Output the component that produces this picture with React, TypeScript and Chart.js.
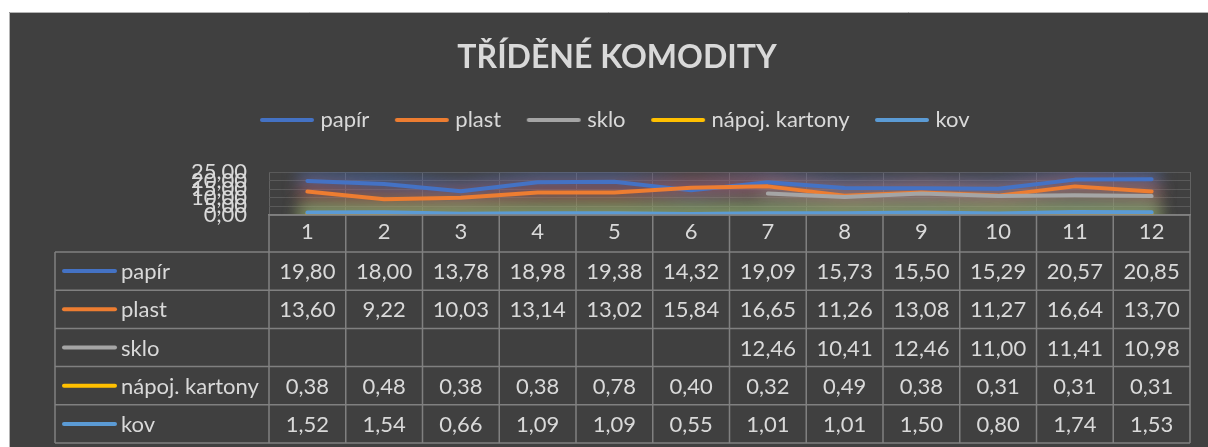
import React, { useEffect, useRef } from "react";
import { Chart, registerables } from "chart.js";

Chart.register(...registerables);

const categories = ["1", "2", "3", "4", "5", "6", "7", "8", "9", "10", "11", "12"];
const seriesNames = ["papír", "plast", "sklo", "nápoj. kartony", "kov"];
const papir = [19.8, 18.0, 13.78, 18.98, 19.38, 14.32, 19.09, 15.73, 15.5, 15.29, 20.57, 20.85];
const plast = [13.6, 9.22, 10.03, 13.14, 13.02, 15.84, 16.65, 11.26, 13.08, 11.27, 16.64, 13.7];
const sklo = [null, null, null, null, null, null, 12.46, 10.41, 12.46, 11.0, 11.41, 10.98];
const napojKartony = [0.38, 0.48, 0.38, 0.38, 0.78, 0.4, 0.32, 0.49, 0.38, 0.31, 0.31, 0.31];
const kov = [1.52, 1.54, 0.66, 1.09, 1.09, 0.55, 1.01, 1.01, 1.5, 0.8, 1.74, 1.53];
const yTicks = [0, 5, 10, 15, 20, 25];
const colors = ["#4472C4", "#ED7D31", "#A5A5A5", "#FFC000", "#5B9BD5"];
const glowColors = [
  "rgba(68,114,196,0.55)",
  "rgba(220,80,50,0.42)",
  "rgba(165,165,165,0.3)",
  "rgba(200,200,40,0.6)",
  "rgba(91,155,213,0.35)",
];

const FONT = "Lato, 'Noto Sans', sans-serif";
const TEXT = "#d9d9d9";
const BG = "#404040";
const TABLE_LINE = "#808080";

const fmt = (v: number | null) => (v === null || v === undefined ? "" : v.toFixed(2).replace(".", ","));

function lineSwatch(color: string) {
  const c = document.createElement("canvas");
  c.width = 56;
  c.height = 6;
  const g = c.getContext("2d");
  if (g) {
    g.strokeStyle = color;
    g.lineWidth = 4;
    g.lineCap = "round";
    g.beginPath();
    g.moveTo(3, 3);
    g.lineTo(53, 3);
    g.stroke();
  }
  return c;
}

export default function App() {
  const ref = useRef<HTMLCanvasElement | null>(null);

  useEffect(() => {
    const canvas = ref.current;
    if (!canvas) return;
    const seriesData = [papir, plast, sklo, napojKartony, kov];
    const swatches = colors.map(lineSwatch);

    const bgPlugin = {
      id: "bgPlugin",
      beforeDraw(chart: any) {
        const { ctx, width, height } = chart;
        ctx.save();
        ctx.fillStyle = BG;
        ctx.fillRect(0, 0, width, height);
        ctx.strokeStyle = "#b4b4b4";
        ctx.lineWidth = 1;
        ctx.beginPath();
        ctx.moveTo(0.5, height);
        ctx.lineTo(0.5, 0.5);
        ctx.lineTo(width, 0.5);
        ctx.stroke();
        ctx.restore();
      },
    };

    const glowPlugin = {
      id: "glowPlugin",
      beforeDatasetsDraw(chart: any) {
        const { ctx, chartArea: a } = chart;
        ctx.save();
        ctx.beginPath();
        ctx.rect(a.left, a.top, a.right - a.left, a.bottom - a.top);
        ctx.clip();
        ctx.filter = "blur(8px)";
        chart.data.datasets.forEach((ds: any, i: number) => {
          const meta = chart.getDatasetMeta(i);
          ctx.strokeStyle = glowColors[i];
          ctx.lineWidth = 20;
          ctx.lineCap = "round";
          ctx.lineJoin = "round";
          ctx.beginPath();
          let started = false;
          meta.data.forEach((pt: any, j: number) => {
            if (ds.data[j] === null || ds.data[j] === undefined) {
              started = false;
              return;
            }
            if (!started) {
              ctx.moveTo(pt.x, pt.y);
              started = true;
            } else {
              ctx.lineTo(pt.x, pt.y);
            }
          });
          ctx.stroke();
        });
        ctx.restore();
      },
    };

    const tablePlugin = {
      id: "tablePlugin",
      afterDraw(chart: any) {
        const { ctx } = chart;
        const xs = chart.scales.x;
        const n = categories.length;
        const colW = (xs.right - xs.left) / n;
        const headerTop = xs.top;
        const headerBottom = xs.bottom;
        const tableLeft = 46;
        const tableBottom = chart.height - 4;
        const rowH = (tableBottom - headerBottom) / seriesNames.length;
        ctx.save();
        ctx.strokeStyle = TABLE_LINE;
        ctx.lineWidth = 1.5;
        ctx.beginPath();
        for (let r = 0; r <= seriesNames.length; r++) {
          const y = headerBottom + r * rowH;
          ctx.moveTo(tableLeft, y);
          ctx.lineTo(xs.right, y);
        }
        ctx.moveTo(xs.left, headerTop);
        ctx.lineTo(xs.right, headerTop);
        ctx.moveTo(tableLeft, headerBottom);
        ctx.lineTo(tableLeft, tableBottom);
        for (let i = 0; i <= n; i++) {
          const x = xs.left + i * colW;
          ctx.moveTo(x, headerTop);
          ctx.lineTo(x, tableBottom);
        }
        ctx.stroke();

        ctx.font = `22px ${FONT}`;
        ctx.fillStyle = TEXT;
        ctx.textBaseline = "middle";
        seriesNames.forEach((name, r) => {
          const cy = headerBottom + r * rowH + rowH / 2;
          ctx.save();
          ctx.strokeStyle = colors[r];
          ctx.lineWidth = 4;
          ctx.lineCap = "round";
          ctx.beginPath();
          ctx.moveTo(tableLeft + 9, cy);
          ctx.lineTo(tableLeft + 60, cy);
          ctx.stroke();
          ctx.restore();
          ctx.textAlign = "left";
          ctx.fillText(name, tableLeft + 66, cy + 1);
          ctx.textAlign = "center";
          seriesData[r].forEach((v: any, i: number) => {
            const cx = xs.getPixelForValue(i);
            ctx.fillText(fmt(v), cx, cy + 1);
          });
        });
        ctx.restore();
      },
    };

    const chart = new Chart(canvas, {
      type: "line",
      data: {
        labels: categories,
        datasets: seriesNames.map((name, i) => ({
          label: name,
          data: seriesData[i],
          borderColor: colors[i],
          backgroundColor: colors[i],
          borderWidth: 4,
          borderCapStyle: "round",
          borderJoinStyle: "round",
          pointRadius: 0,
          pointHoverRadius: 0,
          tension: 0,
          spanGaps: false,
          order: seriesNames.length - i,
        })),
      },
      options: {
        animation: false,
        responsive: false,
        maintainAspectRatio: false,
        events: [],
        layout: { padding: { left: 35, right: 18, top: 0, bottom: 195 } },
        plugins: {
          tooltip: { enabled: false },
          title: {
            display: true,
            text: "TŘÍDĚNÉ KOMODITY",
            color: TEXT,
            font: { family: FONT, size: 32, weight: "bold", lineHeight: 1.2 },
            padding: { top: 26, bottom: 2.6 },
          },
          legend: {
            display: true,
            position: "top",
            labels: {
              color: TEXT,
              font: { family: FONT, size: 22 },
              usePointStyle: true,
              pointStyleWidth: 45,
              padding: 30,
              generateLabels: (c: any) =>
                c.data.datasets.map((ds: any, i: number) => ({
                  text: ds.label,
                  fillStyle: colors[i],
                  strokeStyle: colors[i],
                  fontColor: TEXT,
                  lineWidth: 0,
                  pointStyle: swatches[i],
                  hidden: false,
                  datasetIndex: i,
                })),
            },
          },
        },
        scales: {
          x: {
            type: "category",
            position: "bottom",
            offset: true,
            grid: { display: true, offset: true, color: "#626262", lineWidth: 1, drawTicks: false },
            border: { display: true, color: TABLE_LINE, width: 1.5 },
            ticks: { color: TEXT, font: { family: FONT, size: 22 }, padding: 4, autoSkip: false, maxRotation: 0 },
            afterFit: (s: any) => {
              s.height = 37;
            },
          },
          spacer: {
            type: "category",
            position: "top",
            display: true,
            grid: { display: false, drawTicks: false },
            border: { display: false },
            ticks: { display: false },
            afterFit: (s: any) => {
              s.height = 31;
            },
          },
          y: {
            type: "linear",
            min: 0,
            max: 25,
            afterBuildTicks: (s: any) => {
              s.ticks = yTicks.map((v) => ({ value: v }));
            },
            grid: { color: "#5a5a5a", lineWidth: 1, drawTicks: false },
            border: { display: false },
            ticks: {
              color: TEXT,
              font: { family: FONT, size: 22 },
              padding: 22,
              autoSkip: false,
              callback: (v: any) => Number(v).toFixed(2).replace(".", ","),
            },
            afterFit: (s: any) => {
              s.width = 225;
            },
          },
        },
      },
      plugins: [bgPlugin, glowPlugin, tablePlugin],
    } as any);

    return () => chart.destroy();
  }, []);

  return (
    <div style={{ position: "fixed", left: 0, top: 0, width: 1208, height: 447, background: "#ffffff" }}>
      <canvas
        ref={ref}
        width={1199}
        height={435}
        style={{ position: "absolute", left: 9, top: 12, width: 1199, height: 435 }}
      />
    </div>
  );
}
